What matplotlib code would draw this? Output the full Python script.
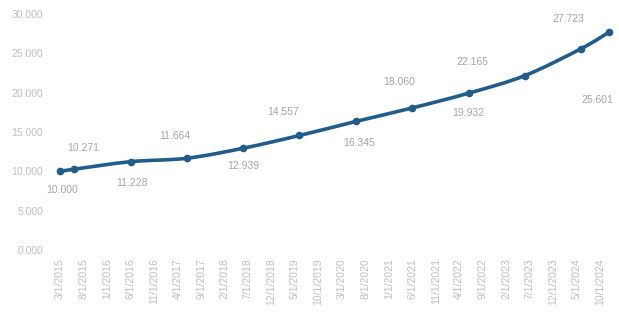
import numpy as np
import pandas as pd
import matplotlib
matplotlib.use("Agg")
import matplotlib.pyplot as plt
import matplotlib.dates as mdates
from matplotlib.path import Path
from matplotlib.patches import PathPatch

# data
dates = ["2015-03-01", "2015-06-01", "2016-06-01", "2017-06-01", "2018-06-01",
         "2019-06-01", "2020-06-01", "2021-06-01", "2022-06-01", "2023-06-01",
         "2024-06-01", "2024-12-01"]
values = [10.000, 10.271, 11.228, 11.664, 12.939, 14.557, 16.345, 18.060,
          19.932, 22.165, 25.601, 27.723]
labels = ["10.000", "10.271", "11.228", "11.664", "12.939", "14.557", "16.345",
          "18.060", "19.932", "22.165", "25.601", "27.723"]
tick_dates = pd.date_range("2015-03-01", "2024-10-01", freq="5MS")
y_ticks = [0, 5, 10, 15, 20, 25, 30]

# label offsets in pixels (dx, dy)
label_offsets = [(2, -19), (9, 21), (1, -21), (-12, 22), (0, -18), (-16, 23),
                 (3, -22), (-13, 26), (0, -20), (-52, 14), (16, -51), (-41, 13)]

line_color = "#215d8c"
text_color = "#a6a6a6"
font = "Liberation Sans"

fig = plt.figure(figsize=(6.19, 3.18), dpi=100)
ax = fig.add_axes([50 / 619, 68 / 318, 567 / 619, 236 / 318])

x = mdates.date2num(pd.to_datetime(dates))
y = np.array(values)

start = mdates.date2num(pd.Timestamp("2015-03-01"))
ax.set_xlim(start - 65, start + 3612)
ax.set_ylim(0, 30)

# smoothed line (catmull-rom bezier in display space, like excel)
pts = ax.transData.transform(np.column_stack([x, y]))
verts = [pts[0]]
codes = [Path.MOVETO]
n = len(pts)
for i in range(n - 1):
    p0 = pts[i - 1] if i > 0 else pts[i]
    p1 = pts[i]
    p2 = pts[i + 1]
    p3 = pts[i + 2] if i + 2 < n else pts[i + 1]
    c1 = p1 + (p2 - p0) / 6
    c2 = p2 - (p3 - p1) / 6
    verts += [c1, c2, p2]
    codes += [Path.CURVE4] * 3
path = Path(ax.transData.inverted().transform(np.array(verts)), codes)
ax.add_patch(PathPatch(path, facecolor="none", edgecolor=line_color, lw=2.6,
                       capstyle="round", joinstyle="round"))
ax.plot(x, y, "o", color=line_color, ms=4.5)

for xi, yi, lab, (dx, dy) in zip(x, y, labels, label_offsets):
    ax.annotate(lab, (xi, yi), xytext=(dx, dy), textcoords="offset pixels",
                ha="center", va="center", fontsize=7.5, color=text_color,
                family=font)

ax.set_yticks(y_ticks)
ax.set_yticklabels([f"{v:.3f}" for v in y_ticks], family=font, fontsize=7.5,
                   color="#bfbfbf")
ax.set_xticks(mdates.date2num(tick_dates))
ax.set_xticklabels([f"{d.month}/{d.day}/{d.year}" for d in tick_dates],
                   rotation=90, family=font, fontsize=7.5, color="#bfbfbf")
ax.tick_params(length=0)
ax.tick_params(axis="y", pad=5)
ax.tick_params(axis="x", pad=6)
for s in ax.spines.values():
    s.set_visible(False)

fig.savefig("out.png", dpi=100)
